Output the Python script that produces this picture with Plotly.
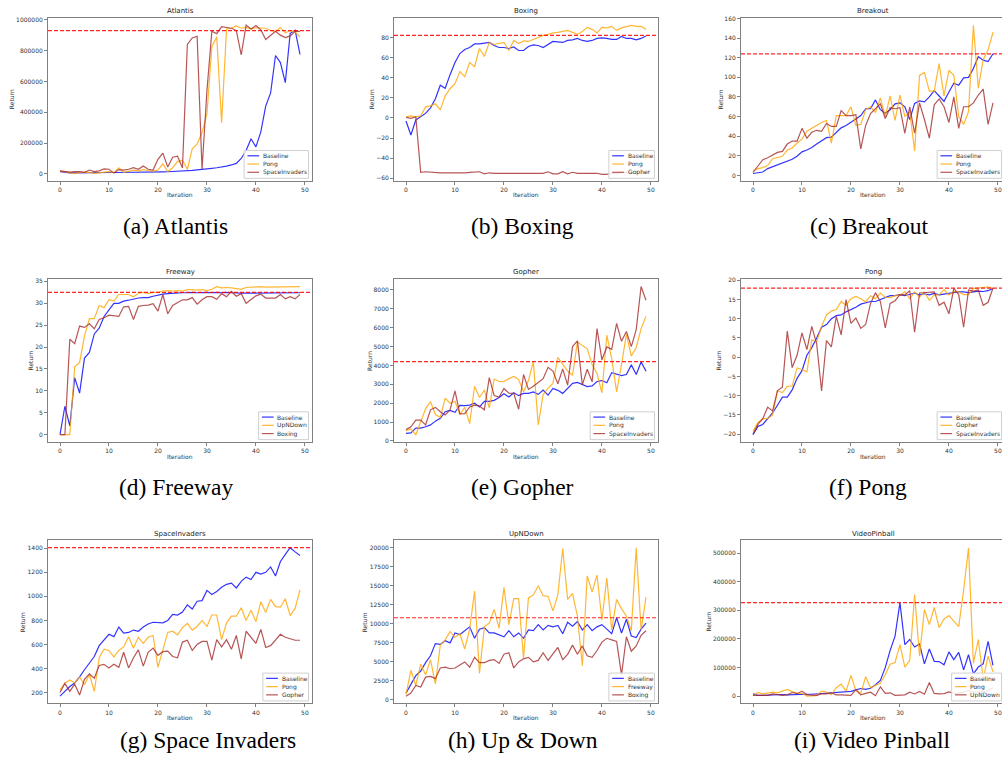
import plotly.graph_objects as go

W, H = 1002, 766
iters = list(range(50))

# ---------------- data ----------------
atl_baseline = [15000, 10000, 7000, 6000, 7000, 7000, 8000, 8000, 8000, 8000,
                9000, 9000, 9000, 9000, 10000, 10000, 10000, 11000, 11000, 12000,
                12000, 13000, 14000, 15000, 17000, 19000, 21000, 23000, 26000, 28000,
                32000, 36000, 40000, 44000, 50000, 58000, 68000, 100000, 152000, 228000,
                175000, 272000, 440000, 525000, 768000, 722000, 592000, 912000, 932000, 775000]
atl_pong = [20000, 15000, 10000, 2000, 10000, 8000, 10000, 3000, 8000, 10000,
            15000, 8000, 40000, 10000, 20000, 25000, 20000, 28000, 22000, 18000,
            25000, 65000, 15000, 40000, 80000, 88000, 30000, 162000, 195000, 268000,
            390000, 825000, 890000, 332000, 940000, 945000, 960000, 945000, 950000, 940000,
            948000, 945000, 945000, 930000, 925000, 950000, 915000, 930000, 920000, 890000]
atl_si = [20000, 18000, 12000, 15000, 15000, 10000, 25000, 15000, 20000, 32000,
          30000, 5000, 28000, 25000, 30000, 40000, 30000, 52000, 30000, 25000,
          95000, 135000, 45000, 108000, 115000, 38000, 840000, 882000, 893000, 28000,
          540000, 925000, 910000, 955000, 950000, 945000, 930000, 772000, 965000, 940000,
          962000, 935000, 872000, 900000, 925000, 900000, 885000, 895000, 925000, 925000]

box_baseline = [-3, -17, -2, 1.5, 4.5, 10, 19, 32.5, 29.5, 43,
                55, 64, 68, 70, 73.5, 73.5, 74, 75, 72, 70,
                70, 69, 70.5, 67, 67, 71, 72.5, 72, 70, 73,
                76, 75.5, 75, 77, 77.5, 79, 77, 76, 77, 79,
                79.5, 79, 78, 78, 81, 79, 79, 77.5, 79, 81.5]
box_pong = [1, 2, 1, 2, 11, 12, 14, 8, 22, 29,
            34, 46, 41, 55, 51, 69, 61, 75, 73, 74,
            75, 67, 77, 74, 76.5, 76, 78, 80, 82, 83,
            84.5, 85, 86, 87, 85, 83, 86, 90, 88, 84.5,
            90, 89.5, 91, 87, 89.5, 90.5, 92, 91, 91, 88]
box_gopher = [0.5, -0.5, 1, -54, -53.5, -54, -54.5, -54.5, -54.5, -54.5,
              -55, -55, -54.5, -54, -53.5, -53.5, -55.5, -54.5, -55, -55,
              -55, -54.5, -55, -54.5, -54.5, -55, -54.5, -55, -55, -53.5,
              -55.5, -55.5, -53.5, -55.5, -54, -55, -55, -54.5, -54.5, -55,
              -56, -56, -55, -55.5, -54, -54, -54.5, -55, -55, -55]

brk_baseline = [2, 3, 3.5, 7, 9, 11, 13, 14.5, 16.5, 19.5,
                24, 26, 28.5, 32, 35.5, 38.5, 39, 44, 48.5, 51,
                54, 57.5, 61, 68, 68, 77, 67, 63.5, 67, 73,
                74, 70, 57, 73.5, 76, 75, 80, 86.5, 81, 75.5,
                85, 94, 92, 99.5, 100, 109, 121, 117.5, 116, 124]
brk_pong = [5, 7, 8, 10, 17, 18, 19.5, 26, 28, 33,
            37, 45, 48, 51, 54, 56, 33, 61, 61, 61,
            70, 51, 52, 67, 70, 64, 79, 60, 81, 56,
            82, 60, 65, 25, 102, 105, 86, 86, 114, 81,
            107, 102, 60, 52, 65, 153, 89, 118, 128, 146]
brk_si = [3, 10, 16, 18, 21, 23.5, 24.5, 32, 35, 35,
          48, 38, 44, 46, 45, 53, 50, 50, 66, 61,
          61, 62, 27, 51, 63, 68, 73, 58, 69, 68,
          69, 43, 70, 43, 74, 57, 38, 72, 78, 70,
          54, 80, 48, 70, 70, 74, 82, 88, 52, 74]

fwy_baseline = [0, 6.5, 2, 13, 9.5, 17.5, 18.8, 23, 24.3, 27,
                28.5, 30, 30, 30.5, 30.7, 31, 31.2, 31.3, 31.3, 31.6,
                31.9, 32.1, 32.2, 32.3, 32.4, 32.4, 32.4, 32.5, 32.4, 32.5,
                32.5, 32.4, 32.5, 32.4, 32.5, 32.4, 32.3, 32.3, 32.3, 32.3,
                32.3, 32.3, 32.3, 32.3, 32.4, 32.4, 32.4, 32.4, 32.4, 32.4]
fwy_upndown = [0, 0, 0, 15.5, 16.5, 22.5, 26.5, 26.5, 29.5, 29,
               30.8, 30.5, 32, 32, 32, 31.5, 32.3, 32.5, 32.2, 32.5,
               32.5, 32.8, 32.9, 32.8, 32.9, 32.8, 33.1, 33.1, 33.0, 33.1,
               32.9, 33.2, 33.8, 33.5, 33.6, 33.5, 33.4, 33.2, 33.6, 33.7,
               33.7, 33.8, 33.7, 33.7, 33.7, 33.7, 33.8, 33.7, 33.7, 33.8]
fwy_boxing = [0, 0, 21.8, 20.8, 24.8, 24.5, 25.3, 24.2, 26.3, 26.7,
              27.3, 27.2, 27, 29.2, 29.3, 26.3, 29.3, 29.5, 29.6, 29.9,
              28.2, 32, 27.6, 29.5, 30.1, 30.8, 30.8, 31.3, 29.8, 30.8,
              31.5, 31.5, 30.9, 32.2, 31.5, 32.7, 31.6, 32.2, 30, 30.8,
              31.7, 32.1, 31.2, 31.2, 31.2, 32, 31, 31.5, 31, 32]

gph_baseline = [400, 430, 680, 680, 750, 850, 1050, 1200, 1550, 1620,
                1520, 1880, 1870, 1900, 2000, 1800, 2100, 2100, 2150, 2300,
                2500, 2330, 2550, 2400, 2520, 2520, 2600, 2470, 2700, 2430,
                2780, 2680, 2520, 2780, 3050, 3100, 2970, 2880, 2920, 3150,
                3200, 3080, 3620, 3550, 3460, 3520, 4030, 3520, 4180, 3700]
gph_pong = [550, 640, 330, 1000, 1700, 2080, 1400, 1250, 2270, 2000,
            2100, 1400, 1780, 920, 2900, 2300, 2700, 1750, 3280, 3150,
            3150, 3300, 3420, 3250, 2600, 3200, 4200, 850, 2450, 2800,
            3050, 4430, 4050, 3700, 3480, 5250, 5050, 4880, 4050, 3570,
            2550, 5600, 4350, 2600, 4050, 5650, 4500, 4950, 5950, 6600]
gph_si = [600, 750, 1100, 1100, 850, 1650, 1780, 1550, 1380, 1650,
          2650, 1430, 1450, 1800, 1900, 1850, 1650, 3350, 2400, 2320,
          2780, 2530, 2520, 1680, 3520, 2730, 2900, 3080, 3300, 3900,
          3700, 3030, 3820, 2960, 5000, 5300, 2970, 3800, 3130, 5950,
          4300, 4980, 4850, 6230, 5280, 5800, 5000, 5900, 8180, 7450]

png_baseline = [-20.2, -18, -17.5, -16, -14.5, -12.5, -10.4, -10.4, -8.5, -5.5,
                -3.5, 0.5, 2.5, 5, 7.8, 8.5, 10, 10.8, 11, 11.8,
                12.3, 13, 13.8, 14.2, 14.5, 14.5, 15, 15.5, 16, 16,
                16.3, 16, 16.4, 16.7, 16.2, 16.5, 16.2, 16.6, 16.2, 16.4,
                16.7, 16.9, 17, 17, 16.8, 17, 17.2, 17.1, 17.3, 17.9]
png_gopher = [-19.3, -17, -16, -16, -15, -8.8, -9.2, -7.6, -7.5, -2.8,
              -3.2, -3.8, 4.5, 4, 8, 11, 12, 12.4, 14.5, 13.5,
              15.2, 15.8, 15.2, 14.4, 16, 15.2, 16.7, 15.6, 15.5, 16,
              16.2, 17, 15.2, 17, 15.7, 16.9, 14.8, 16.2, 16.2, 17.6,
              16.2, 17.1, 17, 16.3, 16.3, 17.9, 18, 18.2, 18.3, 17.9]
png_si = [-20, -17.5, -16, -13, -14, -8.7, -7.8, 6.8, -2.7, 0.5,
          6.3, 2, 8, 3.5, -8.8, 4.3, 2.7, 10.6, 5.8, 15,
          8.8, 10.2, 7.5, 8.5, 14, 16.8, 14.5, 7.6, 14, 14.7,
          16.3, 16.2, 17.3, 6.5, 16.7, 16.8, 17, 17, 13.5, 14.3,
          11.3, 17.9, 16.3, 7.8, 17.5, 17.2, 17.5, 13.5, 14.3, 18]

spi_baseline = [170, 210, 250, 280, 330, 390, 450, 500, 590, 640,
                685, 665, 745, 695, 700, 720, 710, 745, 770, 785,
                780, 780, 800, 850, 845, 870, 930, 895, 960, 965,
                1050, 1015, 1040, 1075, 1100, 1110, 1070, 1125, 1160, 1140,
                1200, 1185, 1200, 1245, 1170, 1290, 1350, 1405, 1370, 1340]
spi_pong = [220, 280, 305, 280, 330, 265, 350, 210, 490, 560,
            550, 495, 550, 580, 665, 570, 660, 610, 660, 675,
            410, 560, 700, 710, 680, 740, 775, 720, 750, 800,
            750, 845, 845, 640, 780, 835, 835, 905, 800, 885,
            790, 955, 865, 975, 915, 910, 980, 840, 900, 1055]
spi_gopher = [200, 275, 210, 270, 180, 310, 355, 320, 425, 435,
              405, 435, 410, 535, 405, 490, 555, 420, 535, 570,
              510, 540, 545, 500, 490, 620, 635, 550, 600, 625,
              625, 470, 640, 580, 640, 560, 675, 480, 710, 660,
              610, 725, 575, 590, 640, 685, 660, 645, 635, 635]

upd_baseline = [900, 2000, 3200, 3800, 4900, 5800, 7400, 7300, 7800, 7500,
                8800, 8600, 9100, 9600, 8100, 9300, 9500, 8800, 8800, 8500,
                8300, 9100, 8300, 8800, 8100, 9200, 9100, 9900, 9200, 9800,
                9600, 9800, 8700, 10200, 9700, 10300, 9200, 9900, 9100, 9600,
                9900, 9300, 8700, 10800, 8800, 10600, 8400, 8200, 9300, 10100]
upd_freeway = [700, 3900, 1900, 4700, 3300, 5300, 2100, 7200, 7900, 9000,
               8200, 8700, 6700, 9300, 14300, 3500, 9600, 10100, 11900, 9400,
               14800, 9900, 13300, 13300, 5500, 13400, 13800, 15000, 13700, 13600,
               11700, 13800, 19900, 13200, 14000, 11000, 4500, 16300, 14200, 16400,
               10500, 16000, 9200, 13200, 12000, 11000, 9100, 20000, 9200, 13500]
upd_boxing = [500, 900, 1900, 1700, 3000, 3100, 2800, 4200, 4300, 4100,
              4200, 4600, 5000, 4300, 5600, 4900, 4900, 5200, 5300, 4800,
              6000, 6200, 4200, 5000, 5400, 5600, 5000, 5200, 6200, 5200,
              6100, 6900, 5300, 6000, 7200, 6000, 7100, 5800, 5600, 6500,
              7600, 8100, 7900, 7700, 3300, 8300, 6400, 7100, 8500, 9100]

vpb_baseline = [8000, 3000, 3000, 4000, 5000, 4000, 6000, 5000, 6000, 6000,
                7000, 7000, 7000, 8000, 9000, 10000, 11000, 13000, 15000, 16000,
                17000, 22000, 27000, 24000, 28000, 40000, 55000, 100000, 160000, 210000,
                327000, 180000, 198000, 172000, 183000, 113000, 165000, 122000, 121000, 110000,
                155000, 128000, 153000, 92000, 145000, 78000, 102000, 113000, 192000, 108000]
vpb_pong = [2000, 13000, 8000, 12000, 14000, 12000, 17000, 24000, 16000, 10000,
            11000, 0, 1000, 2000, 18000, 15000, 5000, 30000, 42000, 18000,
            73000, 20000, 10000, 68000, 30000, 38000, 46000, 75000, 112000, 118000,
            180000, 102000, 125000, 355000, 140000, 303000, 250000, 310000, 240000, 270000,
            282000, 262000, 243000, 370000, 518000, 115000, 198000, 60000, 140000, 85000]
vpb_upndown = [3000, 3000, 2000, 3000, 8000, 5000, 3000, 5000, 13000, 9000,
               18000, 5000, 5000, 3000, 8000, 8000, 12000, 5000, 5000, 5000,
               3000, 23000, 5000, 10000, 14000, 2000, 33000, 10000, 12000, 3000,
               3000, 5000, 14000, 8000, 17000, 7000, 48000, 10000, 8000, 9000,
               15000, 10000, 10000, 15000, 20000, 15000, 15000, 15000, 20000, 30000]

titles = ["Atlantis", "Boxing", "Breakout", "Freeway", "Gopher", "Pong",
          "SpaceInvaders", "UpNDown", "VideoPinball"]
captions = ["(a) Atlantis", "(b) Boxing", "(c) Breakout", "(d) Freeway", "(e) Gopher",
            "(f) Pong", "(g) Space Invaders", "(h) Up & Down", "(i) Video Pinball"]
series_names = [["Baseline", "Pong", "SpaceInvaders"],
                ["Baseline", "Pong", "Gopher"],
                ["Baseline", "Pong", "SpaceInvaders"],
                ["Baseline", "UpNDown", "Boxing"],
                ["Baseline", "Pong", "SpaceInvaders"],
                ["Baseline", "Gopher", "SpaceInvaders"],
                ["Baseline", "Pong", "Gopher"],
                ["Baseline", "Freeway", "Boxing"],
                ["Baseline", "Pong", "UpNDown"]]
series_values = [[atl_baseline, atl_pong, atl_si],
                 [box_baseline, box_pong, box_gopher],
                 [brk_baseline, brk_pong, brk_si],
                 [fwy_baseline, fwy_upndown, fwy_boxing],
                 [gph_baseline, gph_pong, gph_si],
                 [png_baseline, png_gopher, png_si],
                 [spi_baseline, spi_pong, spi_gopher],
                 [upd_baseline, upd_freeway, upd_boxing],
                 [vpb_baseline, vpb_pong, vpb_upndown]]
reference_lines = [930000, 82, 124, 32.5, 4200, 18, 1405, 10800, 327000]
y_ticks = [[0, 200000, 400000, 600000, 800000, 1000000],
           [-60, -40, -20, 0, 20, 40, 60, 80],
           [0, 20, 40, 60, 80, 100, 120, 140, 160],
           [0, 5, 10, 15, 20, 25, 30, 35],
           [0, 1000, 2000, 3000, 4000, 5000, 6000, 7000, 8000],
           [-20, -15, -10, -5, 0, 5, 10, 15, 20],
           [200, 400, 600, 800, 1000, 1200, 1400],
           [0, 2500, 5000, 7500, 10000, 12500, 15000, 17500, 20000],
           [0, 100000, 200000, 300000, 400000, 500000]]
y_ranges = [[-45000, 1012000], [-62.5, 99.4], [-5.5, 160.6], [-1.69, 35.5],
            [-62, 8570], [-22.1, 20.3], [110, 1465], [-450, 20950], [-25000, 544000]]
x_ticks = [0, 10, 20, 30, 40, 50]

# ---------------- style / layout ----------------
colors = ["rgba(0,0,255,0.8)", "rgba(255,165,0,0.8)", "rgba(165,42,42,0.8)"]
col_left = [48, 394, 741]
col_right = [312, 658, 1005]
row_top = [15, 278, 541]
row_bottom = [179, 442, 705]
caption_x = [175, 522, 869, 176, 522, 868, 208, 523, 872]
caption_y = [224, 487, 742]
FONT = "DejaVu Sans"
SMALL = 6
GRAY = "#808080"

DJ = {'0': .636, '1': .636, '2': .636, '3': .636, '4': .636, '5': .636, '6': .636,
      '7': .636, '8': .636, '9': .636, '-': .838,
      'A': .684, 'B': .686, 'D': .770, 'F': .575, 'G': .775, 'I': .295, 'N': .748,
      'P': .603, 'S': .635, 'U': .732, 'a': .613, 'c': .550, 'd': .635, 'e': .615,
      'g': .635, 'h': .634, 'i': .278, 'l': .278, 'n': .634, 'o': .612, 'p': .635,
      'r': .411, 's': .521, 'v': .592, 'w': .818, 'x': .592, 'y': .592}


def tw(s, size):
    return sum(DJ.get(c, 0.6) for c in s) * size


def px(x):
    return x / W


def py(y):
    return 1 - y / H


fig = go.Figure()
layout = dict(width=W, height=H, margin=dict(l=0, r=0, t=0, b=0, pad=0),
              paper_bgcolor="white", plot_bgcolor="white", showlegend=False)
shapes = []
annotations = []

for i in range(9):
    r, c = divmod(i, 3)
    left, right_full = col_left[c], col_right[c]
    right = min(right_full, W)
    top, bottom = row_top[r], row_bottom[r]
    # x range: matplotlib 5% margins over the full (possibly clipped) axes
    ppu = (right_full - left) / 53.9
    xr = [-2.45, -2.45 + (right - left) / ppu]
    sfx = "" if i == 0 else str(i + 1)
    xa, ya = "xaxis" + sfx, "yaxis" + sfx
    layout[xa] = dict(domain=[px(left), px(right)], range=xr, anchor="y" + sfx,
                      showline=True, linecolor=GRAY, linewidth=1, mirror=True,
                      ticks="outside", ticklen=3, tickwidth=1, tickcolor=GRAY,
                      tickvals=x_ticks, showgrid=False, zeroline=False,
                      tickfont=dict(family=FONT, size=SMALL, color="#333"))
    layout[ya] = dict(domain=[py(bottom), py(top)], range=y_ranges[i], anchor="x" + sfx,
                      showline=True, linecolor=GRAY, linewidth=1, mirror=(c != 2),
                      ticks="outside", ticklen=3, tickwidth=1, tickcolor=GRAY,
                      tickvals=y_ticks[i], tickformat="d", showgrid=False, zeroline=False,
                      tickfont=dict(family=FONT, size=SMALL, color="#333"))

    for k in range(3):
        fig.add_trace(go.Scatter(x=iters, y=series_values[i][k], mode="lines",
                                 name=series_names[i][k],
                                 line=dict(color=colors[k], width=1.2),
                                 xaxis="x" + sfx, yaxis="y" + sfx, hoverinfo="skip"))

    # dashed reference line
    shapes.append(dict(type="line", xref="x" + sfx + " domain", yref="y" + sfx,
                       x0=0, x1=1, y0=reference_lines[i], y1=reference_lines[i],
                       line=dict(color="#ff0000", width=1.2, dash="4px,2px"),
                       opacity=0.85, layer="above"))

    # titles and axis labels
    annotations.append(dict(text=titles[i], x=px((left + right_full) / 2), y=py(top - 7),
                            xref="paper", yref="paper", showarrow=False,
                            xanchor="center", yanchor="middle",
                            font=dict(family=FONT, size=7, color="#222")))
    annotations.append(dict(text="Iteration", x=px((left + right_full) / 2), y=py(bottom + 14),
                            xref="paper", yref="paper", showarrow=False,
                            xanchor="center", yanchor="middle",
                            font=dict(family=FONT, size=SMALL, color="#333")))
    lab_w = max(tw(str(v), SMALL) for v in y_ticks[i])
    annotations.append(dict(text="Return", x=px(left - lab_w - 9.5), y=py((top + bottom) / 2),
                            xref="paper", yref="paper", showarrow=False, textangle=-90,
                            xanchor="center", yanchor="middle",
                            font=dict(family=FONT, size=SMALL, color="#333")))

    # legend (matplotlib style, lower right)
    lw = 17.7 + max(tw(n, SMALL) for n in series_names[i]) + 2.5
    lr = right_full - 3.5
    lb = bottom - 2.5
    lt = lb - 28
    ll = lr - lw
    shapes.append(dict(type="rect", xref="paper", yref="paper",
                       x0=px(ll), x1=px(min(lr, W - 0.5)), y0=py(lb), y1=py(lt),
                       fillcolor="rgba(255,255,255,0.85)",
                       line=dict(color="#d0d0d0", width=1), layer="above"))
    for k in range(3):
        yy = lt + 5.3 + 8.3 * k
        shapes.append(dict(type="line", xref="paper", yref="paper",
                           x0=px(ll + 3.3), x1=px(ll + 15), y0=py(yy), y1=py(yy),
                           line=dict(color=colors[k], width=1.2), layer="above"))
        annotations.append(dict(text=series_names[i][k], x=px(ll + 17.7), y=py(yy),
                                xref="paper", yref="paper", showarrow=False,
                                xanchor="left", yanchor="middle", borderpad=0,
                                font=dict(family=FONT, size=SMALL, color="#333")))

    # caption
    annotations.append(dict(text=captions[i], x=px(caption_x[i]), y=py(caption_y[r]),
                            xref="paper", yref="paper", showarrow=False,
                            xanchor="center", yanchor="middle",
                            font=dict(family="Liberation Serif", size=23.5, color="black")))

layout["shapes"] = shapes
layout["annotations"] = annotations
fig.update_layout(**layout)
fig.write_html("out.html")
